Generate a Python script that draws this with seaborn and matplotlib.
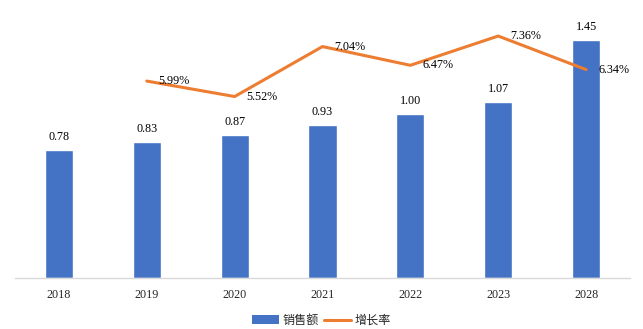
import matplotlib
matplotlib.use("Agg")
import matplotlib.pyplot as plt
import seaborn as sns
import pandas as pd
from matplotlib.patches import Patch
from matplotlib.lines import Line2D

years = ["2018", "2019", "2020", "2021", "2022", "2023", "2028"]
sales = [0.78, 0.83, 0.87, 0.93, 1.00, 1.07, 1.45]
growth_years = ["2019", "2020", "2021", "2022", "2023", "2028"]
growth = [5.99, 5.52, 7.04, 6.47, 7.36, 6.34]
legend_labels = ["销售额", "增长率"]

BAR_COLOR = "#4472C4"
LINE_COLOR = "#ED7D31"
NUM_FONT = "Liberation Serif"
FS = 8.7

sns.set_theme(style="white")
plt.rcParams["font.family"] = [NUM_FONT, "Noto Sans CJK SC", "DejaVu Sans"]

fig = plt.figure(figsize=(6.43, 3.29), dpi=100)
ax = fig.add_axes([15 / 643, 51 / 329, 615 / 643, 263 / 329])

df = pd.DataFrame({"year": years, "sales": sales})
sns.barplot(data=df, x="year", y="sales", color=BAR_COLOR, width=0.32,
            saturation=1, ax=ax, order=years)
ax.set_xlim(-0.5, len(years) - 0.5)
ax.set_ylim(0, 1.6)
for c in ax.containers:
    ax.bar_label(c, fmt="%.2f", padding=5, fontsize=FS, family=NUM_FONT,
                 color="black")

ax2 = ax.twinx()
gdf = pd.DataFrame({"pos": [years.index(y) for y in growth_years],
                    "growth": growth})
sns.lineplot(data=gdf, x="pos", y="growth", color=LINE_COLOR, linewidth=2.2,
             ax=ax2)
ax2.set_ylim(0, 8)
for p, g in zip(gdf["pos"], gdf["growth"]):
    ax2.annotate(f"{g:.2f}%", (p, g), xytext=(8.6, 0), textcoords="offset points",
                 ha="left", va="center", fontsize=FS, family=NUM_FONT,
                 color="black")

for a in (ax, ax2):
    for s in a.spines.values():
        s.set_visible(False)
    a.set_ylabel("")
    a.set_xlabel("")
    a.set_yticks([])
ax.spines["bottom"].set_visible(True)
ax.spines["bottom"].set_color("#D9D9D9")
ax.spines["bottom"].set_linewidth(1)
ax.tick_params(axis="x", length=0, pad=8, labelsize=FS)
for t in ax.get_xticklabels():
    t.set_family(NUM_FONT)
ax.set_xlim(-0.5, len(years) - 0.5)

handles = [Patch(facecolor=BAR_COLOR, edgecolor="none"),
           Line2D([0], [0], color=LINE_COLOR, linewidth=2.2)]
fig.legend(handles, legend_labels, loc="center", bbox_to_anchor=(0.5, 0.026),
           ncol=2, frameon=False, fontsize=FS, handlelength=2.26,
           handletextpad=0.3, columnspacing=0.4,
           prop={"family": ["Noto Sans CJK SC"], "size": FS})

fig.savefig("out.png", dpi=100)
